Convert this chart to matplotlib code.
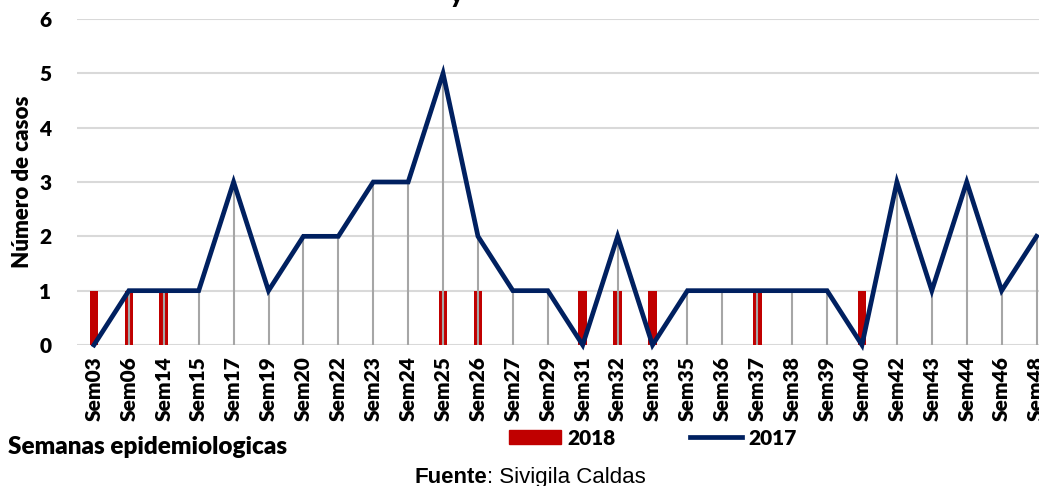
import matplotlib
matplotlib.use("Agg")
import matplotlib.pyplot as plt
from matplotlib.patches import Patch
from matplotlib.lines import Line2D
import numpy as np

semanas = ["Sem03", "Sem06", "Sem14", "Sem15", "Sem17", "Sem19", "Sem20", "Sem22",
           "Sem23", "Sem24", "Sem25", "Sem26", "Sem27", "Sem29", "Sem31", "Sem32",
           "Sem33", "Sem35", "Sem36", "Sem37", "Sem38", "Sem39", "Sem40", "Sem42",
           "Sem43", "Sem44", "Sem46", "Sem48"]
casos_2017 = [0, 1, 1, 1, 3, 1, 2, 2, 3, 3, 5, 2, 1, 1, 0, 2, 0, 1, 1, 1, 1, 1, 0, 3, 1, 3, 1, 2]
casos_2018 = [1, 1, 1, 0, 0, 0, 0, 0, 0, 0, 1, 1, 0, 0, 1, 1, 1, 0, 0, 1, 0, 0, 1, 0, 0, 0, 0, 0]

rojo = "#C00000"
azul = "#002060"
fuente = "Lato"
peso = "heavy"

fig = plt.figure(figsize=(10.39, 4.86), dpi=100)
W, H = 1039, 486
ax = fig.add_axes([76.5 / W, 1 - 345 / H, (1054 - 76.5) / W, (345 - 19) / H])

x = np.arange(len(semanas))
ax.bar(x, casos_2018, width=0.25, color=rojo, zorder=2)
ax.vlines(x, 0, casos_2017, color="#A6A6A6", lw=1.5, zorder=3)
ax.plot(x, casos_2017, color=azul, lw=3.4, solid_joinstyle="miter", zorder=4, clip_on=False)

ax.set_xlim(-0.5, len(semanas) - 0.5)
ax.set_ylim(0, 6)
ax.set_yticks(range(7))
ax.yaxis.grid(True, color="#D9D9D9", lw=1.5, zorder=0)
ax.set_axisbelow(True)
for s in ax.spines.values():
    s.set_visible(False)
ax.tick_params(length=0)
ax.tick_params(axis="y", pad=18)
ax.tick_params(axis="x", pad=8)
ax.set_xticks(x)
ax.set_xticklabels(semanas, rotation=90, fontsize=15, fontweight=peso, family=fuente)
for t in ax.get_yticklabels():
    t.set_fontsize(15)
    t.set_fontweight(peso)
    t.set_family(fuente)

fig.text(23 / W, 1 - 182 / H, "Número de casos", rotation=90, ha="center", va="center",
         fontsize=16, fontweight=peso, family=fuente)
fig.text(8 / W, 1 - 447 / H, "Semanas epidemiologicas", ha="left", va="center",
         fontsize=17.5, fontweight=peso, family=fuente)
fig.text(456 / W, 1 - 3 / H, "y", ha="center", va="baseline",
         fontsize=18, fontweight=peso, family=fuente)

handles = [Patch(color=rojo), Line2D([0], [0], color=azul, lw=3.4)]
leg = fig.legend(handles, ["2018", "2017"], loc="center left", ncol=2,
                 bbox_to_anchor=(490 / W, 1 - 438 / H), frameon=False,
                 handlelength=2.5, handleheight=0.65, columnspacing=3.6, handletextpad=0.3,
                 prop={"family": fuente, "weight": peso, "size": 15})

fig.text(487 / W, 1 - 477 / H, "Fuente", ha="right", va="center",
         fontsize=16, fontweight="bold", family="Liberation Sans")
fig.text(487 / W, 1 - 477 / H, ": Sivigila Caldas", ha="left", va="center",
         fontsize=16, family="Liberation Sans")

fig.savefig("out.png", dpi=100)
